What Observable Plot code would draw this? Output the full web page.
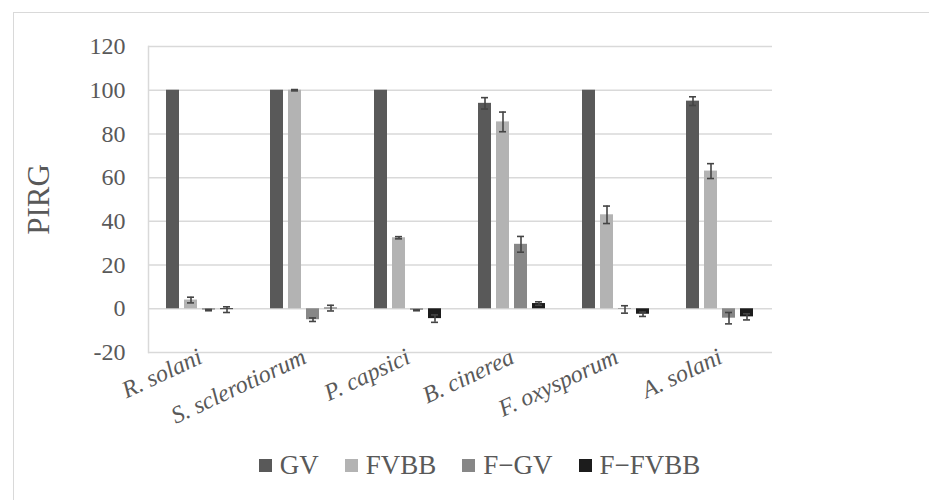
<!DOCTYPE html>
<html>
<head>
<meta charset="utf-8">
<script src="https://cdn.jsdelivr.net/npm/d3@7"></script>
<script src="https://cdn.jsdelivr.net/npm/@observablehq/plot@0.6"></script>
<style>
  html, body { margin: 0; padding: 0; background: #fff; overflow: hidden; }
  #wrap { position: relative; width: 929px; height: 500px; }
  #border { position: absolute; left: 13px; top: 12px; width: 1000px; height: 1000px; border: 1px solid #d9d9d9; box-sizing: border-box; }
  #chart { position: absolute; left: 0; top: 0; }
  #chart svg text { font-family: 'Liberation Serif', serif; }
  #legend { position: absolute; left: 0; top: 450px; width: 929px; display: flex; justify-content: center; padding-left: 30px; box-sizing: border-box;
    font-family: 'Liberation Serif', serif; font-size: 27px; color: #595959; }
  .item { display: flex; align-items: center; margin: 0 13px; }
  .sw { width: 13px; height: 13px; margin-right: 8px; }
</style>
</head>
<body>
<div id="wrap">
  <div id="border"></div>
  <div id="chart"></div>
  <div id="legend"></div>
</div>
<script>
// Categories (last slot is an empty category, as in the original chart)
const categories = ["R. solani", "S. sclerotiorum", "P. capsici", "B. cinerea", "F. oxysporum", "A. solani", ""];
const series = ["GV", "FVBB", "F\u2212GV", "F\u2212FVBB"];
const colors = ["#595959", "#b3b3b3", "#878787", "#1c1c1c"];

// Values (PIRG) per series, one per category
const gv       = [100, 100, 100, 94, 100, 95];
const gvErr    = [0, 0, 0, 2.6, 0, 2];
const fvbb     = [4, 100, 32.5, 85.5, 43, 63];
const fvbbErr  = [1.3, 0.3, 0.5, 4.5, 4, 3.4];
const fgv      = [-0.6, -5, -0.7, 29.5, -0.3, -4.3];
const fgvErr   = [0.3, 0.8, 0.2, 3.6, 1.7, 2.6];
const ffvbb    = [-0.4, 0.3, -4.5, 2.4, -2.5, -3.7];
const ffvbbErr = [1.3, 1.3, 1.7, 0.8, 1, 1.4];

const yTicks = [-20, 0, 20, 40, 60, 80, 100, 120];

const valueSets = [gv, fvbb, fgv, ffvbb];
const errSets = [gvErr, fvbbErr, fgvErr, ffvbbErr];
const rows = [];
series.forEach((s, si) => {
  valueSets[si].forEach((v, ci) => {
    rows.push({cat: categories[ci], series: s, value: v, err: errSets[si][ci]});
  });
});
const errRows = rows.filter(d => d.err > 0).map(d => ({...d, lo: d.value - d.err, hi: d.value + d.err}));

const serif = "Liberation Serif";

const plot = Plot.plot({
  width: 929,
  height: 440,
  marginLeft: 147,
  marginRight: 53,
  marginTop: 46,
  marginBottom: 88,
  style: {fontFamily: "'Liberation Serif', serif", color: "#595959", background: "transparent"},
  fx: {domain: categories, padding: 0, label: null},
  x: {domain: series, paddingInner: 0.26, paddingOuter: 0.87, axis: null},
  y: {domain: [-20, 120]},
  color: {domain: series, range: colors},
  marks: [
    Plot.gridY({ticks: yTicks, stroke: "#d9d9d9", strokeOpacity: 1, strokeWidth: 1.5}),
    Plot.frame({anchor: "left", stroke: "#d9d9d9", strokeWidth: 1.5, facet: "super"}),
    Plot.barY(rows, {fx: "cat", x: "series", y: "value", fill: "series"}),
    Plot.ruleX(errRows, {fx: "cat", x: "series", y1: "lo", y2: "hi", stroke: "#444444", strokeWidth: 1.6}),
    Plot.tickY(errRows, {fx: "cat", x: "series", y: "hi", stroke: "#444444", strokeWidth: 1.6, inset: 3}),
    Plot.tickY(errRows, {fx: "cat", x: "series", y: "lo", stroke: "#444444", strokeWidth: 1.6, inset: 3}),
    Plot.axisY({ticks: yTicks, tickFormat: d => String(d), tickSize: 0, tickPadding: 23, fontSize: 24, fontFamily: serif, label: null}),
    Plot.axisY({ticks: [], tickSize: 0, fontSize: 31, fontFamily: serif, label: "PIRG", labelAnchor: "center", labelArrow: "none", labelOffset: 122}),
    Plot.axisFx({anchor: "bottom", tickRotate: -25, tickSize: 0, tickPadding: 3, fontSize: 24, fontFamily: serif, fontStyle: "italic", label: null})
  ]
});
document.getElementById("chart").appendChild(plot);

const legend = document.getElementById("legend");
series.forEach((s, i) => {
  const item = document.createElement("div");
  item.className = "item";
  const sw = document.createElement("div");
  sw.className = "sw";
  sw.style.background = colors[i];
  const t = document.createElement("span");
  t.textContent = s;
  item.appendChild(sw);
  item.appendChild(t);
  legend.appendChild(item);
});
</script>
</body>
</html>
